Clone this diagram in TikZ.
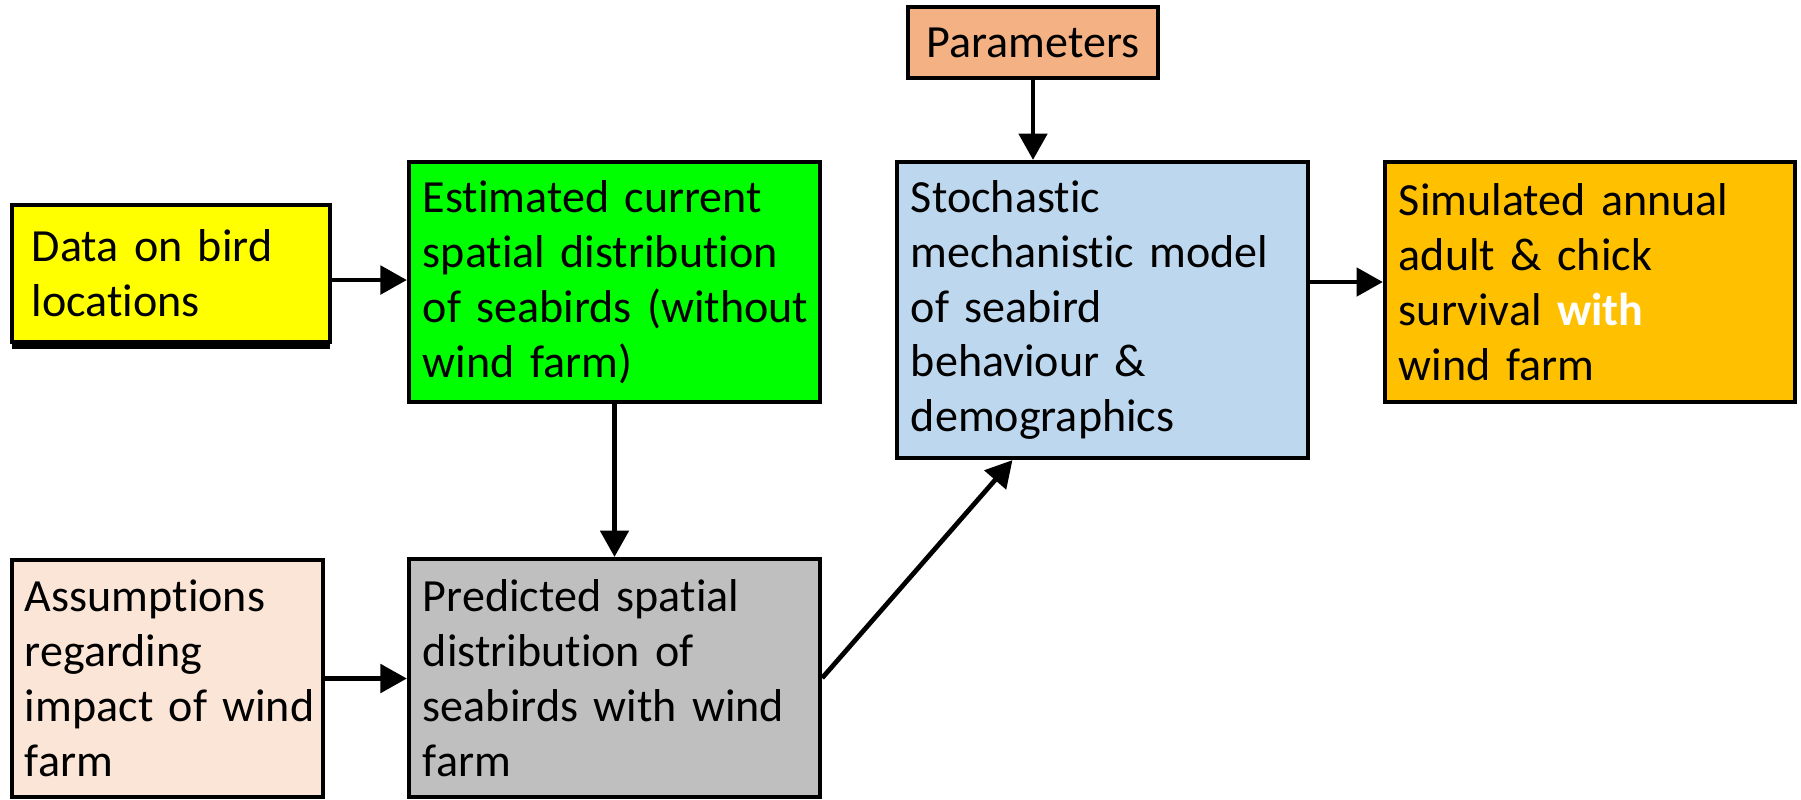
\documentclass[tikz,border=0pt]{standalone}
\usepackage{fontspec}
\setmainfont{Carlito}[Ligatures={NoCommon,NoRequired,NoContextual}, Contextuals=NoAlternate]
\usepackage{xcolor}
\usepackage{tikz}
\usetikzlibrary{positioning, calc, arrows.meta, shadows}

\definecolor{dataYellow}{HTML}{FFFF00}
\definecolor{estGreen}{HTML}{00FF00}
\definecolor{paramOrange}{HTML}{F4B183}
\definecolor{modelBlue}{HTML}{BDD7EE}
\definecolor{simGold}{HTML}{FFC000}
\definecolor{assumPeach}{HTML}{FBE5D6}
\definecolor{predGrey}{HTML}{BFBFBF}

\begin{document}
\begin{tikzpicture}[x=0.01cm, y=-0.01cm, >={Triangle[length=7.5pt, width=8pt]},
				line width=1.15pt, inner xsep=0.14cm,
				box/.style={draw, rectangle, align=left, inner ysep=0pt,
					font=\fontsize{13.1}{15.6}\selectfont,
					execute at begin node={\hyphenpenalty=10000\relax}},
				link/.style={->, line width=1.35pt} ]
				\useasboundingbox (0,0) rectangle (1801,799);
				
				%Caixas:
				\node[box, fill=dataYellow, inner xsep=0.2cm, text width=2.78cm, minimum height=1.37cm,
					general shadow={shadow yshift=-0.07cm, fill=black}]
					(data) at (171,273.5) {Data~on~bird\\locations};
				\node[box, fill=estGreen, text width=3.83cm, minimum height=2.4cm]
					(est) at (614.5,282) {Estimated~current\\spatial~distribution\\of~seabirds~(without\\wind~farm)};
				\node[box, fill=paramOrange, align=center, minimum width=2.5cm, minimum height=0.71cm]
					(param) at (1033,42.5) {Parameters};
				\node[box, fill=modelBlue, text width=3.83cm, minimum height=2.96cm]
					(model) at (1102.5,310) {Stochastic\\mechanistic~model\\of~seabird\\behaviour~\&\\demographics};
				\node[box, fill=simGold, text width=3.82cm, minimum height=2.4cm]
					(sim) at (1590,282) {Simulated~annual\\adult~\&~chick\\survival~{\color{white}\bfseries with}\\wind~farm};
				\node[box, fill=assumPeach, inner xsep=0.13cm, text width=2.85cm, minimum height=2.37cm]
					(assum) at (167.5,678.5) {Assumptions\\regarding\\impact~of~wind\\farm};
				\node[box, fill=predGrey, text width=3.83cm, minimum height=2.38cm]
					(pred) at (614.5,678) {Predicted~spatial\\distribution~of\\seabirds~with~wind\\farm};
				
				%Setas:
				%(Origem) -- (Destino)
				\draw[link] ([yshift=-0.065cm]data.east) -- ([yshift=-0.065cm]data.east -| est.west);
				\draw[link] (param.south) -- (param.south |- model.north);
				\draw[link] (sim.west -| model.east) -- (sim.west);
				\draw[link] (est.south) -- (pred.north);
				\draw[link] (assum.east) -- (assum.east -| pred.west);
				\draw[link] (pred.east) -- ([xshift=-0.9cm]model.south);
			\end{tikzpicture}
\end{document}
